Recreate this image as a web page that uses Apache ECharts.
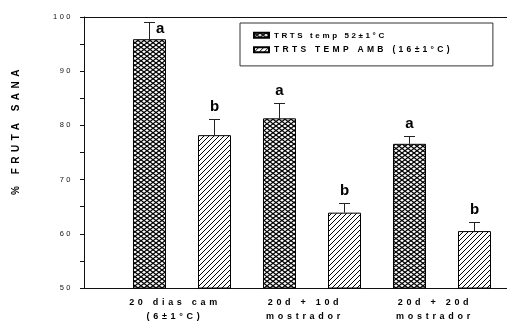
<!DOCTYPE html>
<html><head><meta charset="utf-8">
<script src="https://cdn.jsdelivr.net/npm/echarts@6.0.0/dist/echarts.min.js"></script>
<style>html,body{margin:0;padding:0;background:#fff}#c{width:507px;height:322px}</style>
</head><body><div id="c"></div>
<script>
// ---- data ----
const categories = ['20 dias cam\n(6±1°C)', '20d + 10d\nmostrador', '20d + 20d\nmostrador'];
const seriesNames = ['TRTS temp 52±1°C', 'TRTS TEMP AMB (16±1°C)'];
const tempValues = [95.9, 81.3, 76.6];
const tempErrors = [3.2, 2.8, 1.5];
const tempLetters = ['a', 'a', 'a'];
const ambValues = [78.2, 63.9, 60.5];
const ambErrors = [2.9, 1.8, 1.7];
const ambLetters = ['b', 'b', 'b'];
const yMin = 50, yMax = 100, yTickStep = 5, yLabelStep = 10;
const yAxisTitle = '% FRUTA SANA';

// ---- letter spacing emulation (the original uses widely spaced type) ----
const SPACING = {7.5: 2.5, 8: 2.6, 8.5: 3.3, 9: 3.7, 10: 4.5};
function spacingFor(font) {
  const m = /(\d+(?:\.\d+)?)px/.exec(font || '');
  if (!m) return 0;
  return SPACING[parseFloat(m[1])] || 0;
}
(function () {
  const P = CanvasRenderingContext2D.prototype;
  const hasLS = 'letterSpacing' in P;
  const oFill = P.fillText, oStroke = P.strokeText, oMeasure = P.measureText;
  P.fillText = function () {
    if (hasLS) this.letterSpacing = spacingFor(this.font) + 'px';
    const r = oFill.apply(this, arguments);
    if (hasLS) this.letterSpacing = '0px';
    return r;
  };
  P.strokeText = function () {
    if (hasLS) this.letterSpacing = spacingFor(this.font) + 'px';
    const r = oStroke.apply(this, arguments);
    if (hasLS) this.letterSpacing = '0px';
    return r;
  };
  P.measureText = function (t) {
    if (hasLS) this.letterSpacing = '0px';
    const m = oMeasure.apply(this, arguments);
    const sp = spacingFor(this.font);
    if (!sp) return m;
    const n = Array.from(String(t)).length;
    return {
      width: m.width + n * sp,
      actualBoundingBoxAscent: m.actualBoundingBoxAscent,
      actualBoundingBoxDescent: m.actualBoundingBoxDescent,
      actualBoundingBoxLeft: m.actualBoundingBoxLeft,
      actualBoundingBoxRight: m.actualBoundingBoxRight + n * sp,
      fontBoundingBoxAscent: m.fontBoundingBoxAscent,
      fontBoundingBoxDescent: m.fontBoundingBoxDescent
    };
  };
})();

// ---- patterns ----
function makeCross() {
  const w = 6, h = 4.5, c = document.createElement('canvas');
  c.width = 6; c.height = 9;
  const g = c.getContext('2d');
  g.fillStyle = '#fff'; g.fillRect(0, 0, 6, 9);
  g.strokeStyle = '#000'; g.lineWidth = 1.25;
  for (const ky of [-h, 0, h, 2 * h]) {
    for (const kx of [-w, 0, w]) {
      g.beginPath(); g.moveTo(kx, ky); g.lineTo(kx + w, ky + h); g.stroke();
      g.beginPath(); g.moveTo(kx + w, ky); g.lineTo(kx, ky + h); g.stroke();
    }
  }
  return c;
}
function makeHatch() {
  const s = 5, c = document.createElement('canvas');
  c.width = s; c.height = s;
  const g = c.getContext('2d');
  g.fillStyle = '#fff'; g.fillRect(0, 0, s, s);
  g.strokeStyle = '#000'; g.lineWidth = 1;
  for (const k of [-s, 0, s]) {
    g.beginPath(); g.moveTo(k, s); g.lineTo(k + s, 0); g.stroke();
  }
  return c;
}
const crossFill = {image: makeCross(), repeat: 'repeat'};
const hatchFill = {image: makeHatch(), repeat: 'repeat'};

const FONT = '"Liberation Sans", Arial, sans-serif';
const BAR_W = 33, GAP_PX = 32;
const OFFSET = (BAR_W + GAP_PX) / 2;
const CAP = 5.5;
const INK = '#000';

function errSeries(vals, errs, letters, sign) {
  return {
    type: 'custom', xAxisIndex: 2, yAxisIndex: 1, z: 5, silent: true, clip: false,
    data: vals.map((v, i) => [i, v, v + errs[i]]),
    renderItem(params, api) {
      const i = api.value(0);
      const base = api.coord([i, api.value(1)]);
      const top = api.coord([i, api.value(2)]);
      const x = Math.round(base[0] + sign * OFFSET - 0.5) + 0.5;
      const yT = Math.round(top[1]) + 0.5;
      const ls = {stroke: '#222', lineWidth: 1};
      const children = [
        {type: 'line', shape: {x1: x, y1: base[1], x2: x, y2: yT}, style: ls},
        {type: 'line', shape: {x1: x - CAP, y1: yT, x2: x + CAP, y2: yT}, style: ls}
      ];
      const letter = letters[params.dataIndex];
      const gridTop = params.coordSys.y;
      const tf = 'bold 15px ' + FONT;
      if (yT - 20 < gridTop) {
        children.push({type: 'text', x: x + CAP + 1, y: yT + 14,
          style: {text: letter, textAlign: 'left', textVerticalAlign: 'bottom', font: tf, fill: INK}});
      } else {
        children.push({type: 'text', x: x, y: yT - 5,
          style: {text: letter, textAlign: 'center', textVerticalAlign: 'bottom', font: tf, fill: INK}});
      }
      return {type: 'group', children};
    }
  };
}

const chart = echarts.init(document.getElementById('c'), null, {renderer: 'canvas'});
const axisLineStyle = {color: '#111', width: 1};
chart.setOption({
  animation: false,
  backgroundColor: '#fff',
  textStyle: {fontFamily: FONT},
  grid: [
    {left: 84, right: 0, top: 17, bottom: 34, outerBoundsMode: 'none', containLabel: false},
    {left: 117, right: 0, top: 17, bottom: 34, outerBoundsMode: 'none', containLabel: false}
  ],
  xAxis: [
    {gridIndex: 0, type: 'value', min: 0, max: 1, position: 'bottom',
      axisLine: {show: true, onZero: false, lineStyle: axisLineStyle},
      axisTick: {show: false}, axisLabel: {show: false}, splitLine: {show: false}},
    {gridIndex: 0, type: 'value', min: 0, max: 1, position: 'top',
      axisLine: {show: true, onZero: false, lineStyle: axisLineStyle},
      axisTick: {show: false}, axisLabel: {show: false}, splitLine: {show: false}},
    {gridIndex: 1, type: 'category', data: categories, position: 'bottom',
      axisLine: {show: false}, axisTick: {show: false}, splitLine: {show: false},
      axisLabel: {margin: 8, fontSize: 9, fontWeight: 'bold', color: INK, lineHeight: 14,
        fontFamily: FONT, padding: [0, 14, 0, 0], interval: 0}}
  ],
  yAxis: [
    {gridIndex: 0, type: 'value', min: yMin, max: yMax, interval: yTickStep,
      axisLine: {show: true, onZero: false, lineStyle: axisLineStyle},
      axisTick: {show: true, inside: false, length: 4, lineStyle: axisLineStyle},
      axisLabel: {margin: 11, fontSize: 7.5, color: '#111', fontFamily: FONT,
        formatter: v => (v % yLabelStep === 0 ? String(v) : '')},
      splitLine: {show: false}},
    {gridIndex: 1, type: 'value', min: yMin, max: yMax, show: false, splitLine: {show: false}}
  ],
  legend: {
    orient: 'vertical', left: 240, top: 23, padding: [7, 40, 10, 13],
    itemWidth: 15, itemHeight: 5, itemGap: 3, icon: 'rect', selectedMode: false,
    data: seriesNames, borderColor: '#333', borderWidth: 1, backgroundColor: '#fff',
    formatter: name => (name === seriesNames[1] ? '{w|' + name + '}' : name),
    textStyle: {fontSize: 8, fontWeight: 'bold', color: INK, fontFamily: FONT,
      rich: {w: {fontSize: 8.5, fontWeight: 'bold', color: INK, fontFamily: FONT}}}
  },
  graphic: [{
    type: 'text', x: 16, y: 130, rotation: Math.PI / 2,
    style: {text: yAxisTitle, font: 'bold 10px ' + FONT, fill: INK,
      textAlign: 'center', textVerticalAlign: 'middle'}
  }],
  series: [
    {name: seriesNames[0], type: 'bar', xAxisIndex: 2, yAxisIndex: 1, data: tempValues,
      barWidth: BAR_W, barGap: (GAP_PX / BAR_W * 100).toFixed(1) + '%',
      itemStyle: {color: crossFill, borderColor: INK, borderWidth: 1}},
    {name: seriesNames[1], type: 'bar', xAxisIndex: 2, yAxisIndex: 1, data: ambValues,
      barWidth: BAR_W, barGap: (GAP_PX / BAR_W * 100).toFixed(1) + '%',
      itemStyle: {color: hatchFill, borderColor: INK, borderWidth: 1}},
    errSeries(tempValues, tempErrors, tempLetters, -1),
    errSeries(ambValues, ambErrors, ambLetters, 1)
  ]
});
</script>
</body></html>
